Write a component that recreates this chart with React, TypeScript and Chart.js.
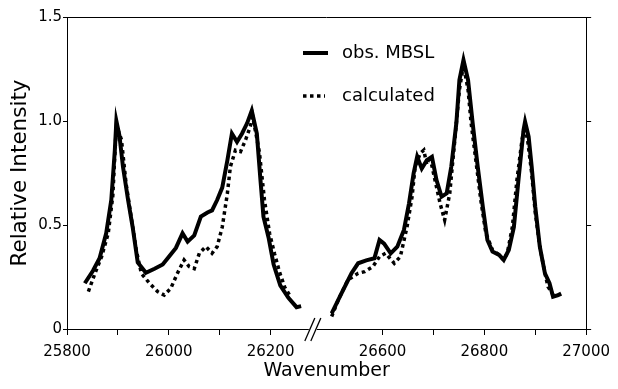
import React, { useEffect, useRef } from "react";
import { Chart, registerables } from "chart.js";

Chart.register(...registerables);

// ---- data (wavenumber, relative intensity) ----
const obsWave = [
  25835, 25851, 25864, 25877, 25887, 25894, 25897, 25903, 25910, 25920, 25929, 25939, 25955, 25972, 25988,
  26001, 26014, 26027, 26037, 26050, 26063, 26076, 26085, 26095, 26105, 26115, 26124, 26134, 26144, 26154,
  26163, 26173, 26180, 26186, 26196, 26206, 26219, 26235, 26251, 26260,
  26380,
  26500, 26519, 26539, 26552, 26568, 26584, 26594, 26603, 26616, 26629, 26642, 26652, 26661, 26668, 26677,
  26687, 26697, 26706, 26716, 26726, 26735, 26745, 26751, 26759, 26768, 26777, 26787, 26797, 26806, 26816,
  26829, 26838, 26848, 26858, 26867, 26877, 26880, 26887, 26893, 26900, 26909, 26919, 26928, 26935, 26945, 26951,
];
const obsValue = [
  0.22, 0.28, 0.34, 0.46, 0.62, 0.86, 1.0, 0.93, 0.78, 0.62, 0.49, 0.32, 0.27, 0.29, 0.31,
  0.35, 0.39, 0.46, 0.42, 0.45, 0.54, 0.56, 0.57, 0.62, 0.68, 0.81, 0.94, 0.9, 0.94, 0.99,
  1.05, 0.94, 0.72, 0.54, 0.44, 0.31, 0.21, 0.15, 0.105, 0.11,
  null,
  0.075, 0.17, 0.268, 0.316, 0.33, 0.34, 0.428, 0.41, 0.364, 0.396, 0.476, 0.604, 0.748, 0.828, 0.772,
  0.812, 0.828, 0.716, 0.636, 0.652, 0.78, 0.99, 1.197, 1.293, 1.197, 0.99, 0.78, 0.588, 0.428, 0.372,
  0.356, 0.332, 0.38, 0.49, 0.716, 0.957, 0.997, 0.925, 0.78, 0.588, 0.396, 0.268, 0.22, 0.155, 0.163, 0.17,
];

const calcWave = [
  25842, 25855, 25868, 25881, 25890, 25897, 25907, 25916, 25926, 25936, 25946, 25962, 25978, 25991,
  26004, 26017, 26030, 26040, 26050, 26060, 26073, 26085, 26095, 26105, 26115, 26121, 26131, 26141, 26151,
  26160, 26165, 26178, 26188, 26198, 26208, 26218, 26228, 26238,
  26380,
  26500, 26513, 26532, 26552, 26565, 26581, 26594, 26606, 26623, 26635, 26648, 26658, 26664, 26674, 26681,
  26687, 26693, 26703, 26713, 26722, 26732, 26742, 26751, 26759, 26768, 26774, 26784, 26793, 26803, 26816,
  26829, 26838, 26845, 26855, 26864, 26874, 26879, 26885, 26893, 26900, 26909, 26919, 26925, 26935, 26945,
];
const calcValue = [
  0.18, 0.268, 0.348, 0.46, 0.64, 0.98, 0.91, 0.7, 0.54, 0.38, 0.268, 0.22, 0.18, 0.163,
  0.196, 0.268, 0.332, 0.3, 0.29, 0.364, 0.396, 0.364, 0.396, 0.49, 0.65, 0.78, 0.86, 0.853, 0.91,
  0.973, 1.02, 0.85, 0.62, 0.46, 0.36, 0.27, 0.2, 0.16,
  null,
  0.06, 0.14, 0.236, 0.268, 0.276, 0.3, 0.348, 0.364, 0.316, 0.348, 0.49, 0.636, 0.78, 0.845, 0.86,
  0.79, 0.83, 0.716, 0.604, 0.524, 0.652, 0.909, 1.15, 1.27, 1.15, 0.99, 0.797, 0.62, 0.46, 0.38,
  0.356, 0.332, 0.364, 0.49, 0.716, 0.909, 0.973, 0.909, 0.748, 0.56, 0.396, 0.268, 0.204, 0.165, 0.163,
];

const seriesLabels = ["obs. MBSL", "calculated"];
const xTickValues = [25800, 25900, 26000, 26100, 26200, 26600, 26700, 26800, 26900, 27000];
const xTickLabels = ["25800", "", "26000", "", "26200", "26600", "", "26800", "", "27000"];
const yTickValues = [0, 0.5, 1.0, 1.5];
const yTickLabels = ["0", "0.5", "1.0", "1.5"];
const xTitle = "Wavenumber";
const yTitle = "Relative Intensity";

// broken axis: wavenumbers above BREAK_AT are shifted left by BREAK_GAP
const X_MIN = 25800;
const X_MAX = 27000;
const BREAK_AT = 26300;
const BREAK_GAP = 180;
const BREAK_MARK = 26283;

const toAxis = (w: number) => (w > BREAK_AT ? w - BREAK_GAP : w);
const toPoints = (ws: number[], vs: (number | null)[]) => ws.map((w, i) => ({ x: toAxis(w), y: vs[i] }));

const FONT = "'DejaVu Sans', Verdana, sans-serif";

const decorPlugin = {
  id: "decor",
  afterDraw(chart: any) {
    const { ctx, chartArea, scales } = chart;
    ctx.save();
    // top frame line
    ctx.strokeStyle = "#000";
    ctx.lineWidth = 1;
    ctx.beginPath();
    ctx.moveTo(chartArea.left, chartArea.top + 0.5);
    ctx.lineTo(chartArea.right, chartArea.top + 0.5);
    ctx.stroke();

    // axis break "//"
    const bx = scales.x.getPixelForValue(BREAK_MARK);
    const by = chartArea.bottom;
    ctx.fillStyle = "#fff";
    ctx.fillRect(bx - 4, by - 2, 8, 4);
    ctx.strokeStyle = "#000";
    ctx.lineWidth = 1.3;
    for (const dx of [-3, 3]) {
      ctx.beginPath();
      ctx.moveTo(bx + dx - 5, by + 12);
      ctx.lineTo(bx + dx + 5, by - 11);
      ctx.stroke();
    }

    // legend
    const ds = chart.data.datasets;
    const lx = 303;
    const rows = [53, 96];
    ctx.font = `18px ${FONT}`;
    ctx.textBaseline = "middle";
    ctx.textAlign = "left";
    ctx.fillStyle = "#000";
    rows.forEach((yy, i) => {
      ctx.strokeStyle = "#000";
      ctx.lineWidth = ds[i].borderWidth;
      ctx.setLineDash(ds[i].borderDash || []);
      ctx.lineCap = "butt";
      ctx.beginPath();
      ctx.moveTo(lx, yy);
      ctx.lineTo(lx + (i === 0 ? 25 : 22), yy);
      ctx.stroke();
      ctx.setLineDash([]);
      ctx.fillText(ds[i].label, 342, yy);
    });
    ctx.restore();
  },
};

export default function App() {
  const ref = useRef<HTMLCanvasElement | null>(null);

  useEffect(() => {
    if (!ref.current) return;
    Chart.defaults.font.family = FONT;
    Chart.defaults.color = "#000";
    const chart = new Chart(ref.current, {
      type: "line",
      data: {
        datasets: [
          {
            label: seriesLabels[0],
            data: toPoints(obsWave, obsValue),
            borderColor: "#000",
            borderWidth: 4,
            pointRadius: 0,
            tension: 0,
            spanGaps: false,
            order: 2,
          },
          {
            label: seriesLabels[1],
            data: toPoints(calcWave, calcValue),
            borderColor: "#000",
            borderWidth: 3.5,
            borderDash: [3.5, 3.5],
            pointRadius: 0,
            tension: 0,
            spanGaps: false,
            order: 1,
          },
        ],
      } as any,
      options: {
        animation: false,
        responsive: false,
        events: [],
        layout: { padding: { top: 17, right: 20, left: 0, bottom: 0 } },
        plugins: { legend: { display: false }, tooltip: { enabled: false } },
        scales: {
          x: {
            type: "linear",
            min: toAxis(X_MIN),
            max: toAxis(X_MAX),
            afterBuildTicks: (s: any) => {
              s.ticks = xTickValues.map((w) => ({ value: toAxis(w) }));
            },
            afterFit: (s: any) => {
              s.height = 60;
            },
            ticks: {
              autoSkip: false,
              maxRotation: 0,
              padding: 8,
              font: { size: 15 },
              callback: (_v: any, i: number) => xTickLabels[i],
            },
            grid: { drawOnChartArea: false, drawTicks: true, tickLength: 6, color: "#000" },
            border: { display: true, color: "#000", width: 1 },
            title: { display: true, text: xTitle, font: { size: 19 }, padding: { top: 0, bottom: 7 } },
          },
          y: {
            type: "linear",
            position: "left",
            min: 0,
            max: 1.5,
            afterBuildTicks: (s: any) => {
              s.ticks = yTickValues.map((v) => ({ value: v }));
            },
            afterFit: (s: any) => {
              s.width = 67;
            },
            ticks: {
              padding: 1,
              font: { size: 15 },
              callback: (_v: any, i: number) => yTickLabels[i],
            },
            grid: { drawOnChartArea: false, drawTicks: true, tickLength: 4, color: "#000" },
            border: { display: true, color: "#000", width: 1 },
            title: { display: true, text: yTitle, font: { size: 21.5 }, padding: { top: 8, bottom: 0 } },
          },
          y2: {
            type: "linear",
            position: "right",
            min: 0,
            max: 1.5,
            afterBuildTicks: (s: any) => {
              s.ticks = yTickValues.map((v) => ({ value: v }));
            },
            afterFit: (s: any) => {
              s.width = 6;
            },
            ticks: { display: false },
            grid: { drawOnChartArea: false, drawTicks: true, tickLength: 5, color: "#000" },
            border: { display: true, color: "#000", width: 1 },
          },
        },
      } as any,
      plugins: [decorPlugin],
    });
    return () => chart.destroy();
  }, []);

  return (
    <div style={{ position: "absolute", left: 0, top: 0, width: 618, height: 389, background: "#fff" }}>
      <canvas ref={ref} width={618} height={389} style={{ display: "block" }} />
    </div>
  );
}
